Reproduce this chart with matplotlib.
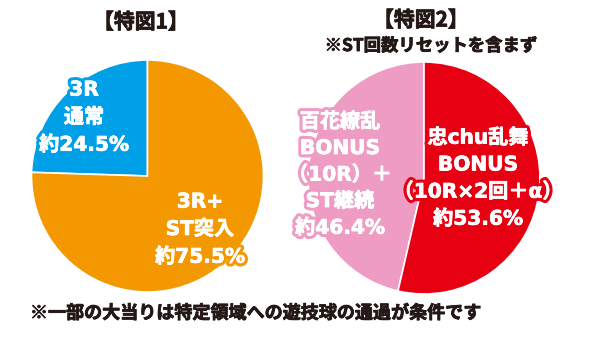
import matplotlib
matplotlib.use("Agg")
import matplotlib.pyplot as plt
import matplotlib.patheffects as pe

plt.rcParams['font.family'] = ['DejaVu Sans', 'Noto Sans CJK JP']

# 特図1
fig1_labels = [["3R", "通常"], ["3R+", "ST突入"]]
fig1_values = [24.5, 75.5]
fig1_colors = ["#00A0E9", "#F39800"]

# 特図2
fig2_labels = [["百花繚乱", "BONUS", "（10R）＋", "ST継続"],
               ["忠chu乱舞", "BONUS", "（10R×2回＋α）"]]
fig2_values = [46.4, 53.6]
fig2_colors = ["#EE9CC3", "#E60012"]

title1 = "【特図1】"
title2 = "【特図2】"
subtitle2 = "※ST回数リセットを含まず"
footnote = "※一部の大当りは特定領域への遊技球の通過が条件です"

W, H = 590, 342
fig = plt.figure(figsize=(W / 100, H / 100), dpi=100)
ax = fig.add_axes([0, 0, 1, 1])

def Y(y):
    return H - y

R = 116
ax.pie(fig1_values, colors=fig1_colors, startangle=90, counterclock=True,
       center=(147.5, Y(176)), radius=R,
       wedgeprops=dict(edgecolor="white", linewidth=1.2))
ax.pie(fig2_values, colors=fig2_colors, startangle=90, counterclock=True,
       center=(424, Y(178)), radius=R,
       wedgeprops=dict(edgecolor="white", linewidth=1.2))
ax.set_xlim(0, W)
ax.set_ylim(0, H)
ax.set_aspect("auto")
ax.axis("off")

dark = "#231815"

def label(x, y0, step, lines, value, color, size=14.5):
    allines = lines + [f"約{value}%"]
    for i, t in enumerate(allines):
        ax.text(x, Y(y0 + i * step), t, ha="center", va="center",
                color="white", fontsize=size, fontweight="bold",
                path_effects=[pe.withStroke(linewidth=5, foreground=color),
                              pe.withStroke(linewidth=0.5, foreground="white")])

label(84, 90, 27.5, fig1_labels[0], fig1_values[0], fig1_colors[0])
label(200, 202, 27.5, fig1_labels[1], fig1_values[1], fig1_colors[1])
label(340, 122, 26.5, fig2_labels[0], fig2_values[0], fig2_colors[0])
label(478, 138, 27, fig2_labels[1], fig2_values[1], fig2_colors[1])

def heading(x, y, t, size):
    ax.text(x, Y(y), t, ha="center", va="center", color=dark,
            fontsize=size, fontweight="bold",
            family=['Noto Sans CJK JP', 'DejaVu Sans'],
            path_effects=[pe.withStroke(linewidth=0.6, foreground=dark)])

heading(141, 22, title1, 15)
heading(421, 20, title2, 15)
heading(431, 46, subtitle2, 12.5)
heading(255, 313, footnote, 13)

fig.savefig("out.png", dpi=100)
